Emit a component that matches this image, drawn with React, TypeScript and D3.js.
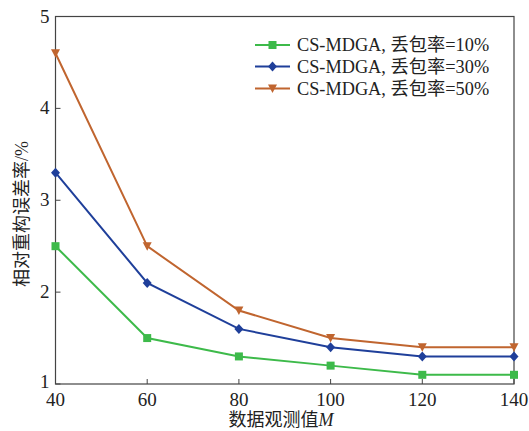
import React from "react";
import * as d3 from "d3";

const xValues = [40, 60, 80, 100, 120, 140];
const loss10 = [2.5, 1.5, 1.3, 1.2, 1.1, 1.1];
const loss30 = [3.3, 2.1, 1.6, 1.4, 1.3, 1.3];
const loss50 = [4.6, 2.5, 1.8, 1.5, 1.4, 1.4];
const xTicks = [40, 60, 80, 100, 120, 140];
const yTicks = [1, 2, 3, 4, 5];
const seriesNames = ["CS-MDGA, 丢包率=10%", "CS-MDGA, 丢包率=30%", "CS-MDGA, 丢包率=50%"];

const colors = ["#3dba4a", "#1f3f9a", "#c0652f"];
const shapes = ["square", "diamond", "triangle"];

const W = 529, H = 431;
const left = 55.5, right = 514, top = 16.5, bottom = 384;
const serif = "'Liberation Serif', 'Times New Roman', serif";
const cjk = "'Liberation Serif', 'Noto Sans CJK SC', serif";

function Marker({ shape, x, y, color }: { shape: string; x: number; y: number; color: string }) {
  if (shape === "square") return <rect x={x - 4} y={y - 4} width={8} height={8} fill={color} />;
  if (shape === "diamond")
    return <path d={`M${x},${y - 5}L${x + 4.5},${y}L${x},${y + 5}L${x - 4.5},${y}Z`} fill={color} />;
  return <path d={`M${x - 4.5},${y - 4}L${x + 4.5},${y - 4}L${x},${y + 4.5}Z`} fill={color} />;
}

export default function App() {
  const x = d3.scaleLinear().domain([40, 140]).range([left, right]);
  const y = d3.scaleLinear().domain([1, 5]).range([bottom, top]);
  const line = d3.line<number>().x((_, i) => x(xValues[i])).y((d) => y(d));
  const series = [loss10, loss30, loss50];
  const axisColor = "#444";
  const textColor = "#222";
  return (
    <svg width={W} height={H} style={{ position: "absolute", left: 0, top: 0, background: "#fff" }}>
      <rect x={left} y={top} width={right - left} height={bottom - top} fill="none" stroke={axisColor} strokeWidth={1.2} />
      {xTicks.map((t) => (
        <g key={"x" + t}>
          <line x1={x(t)} x2={x(t)} y1={bottom} y2={bottom - 5} stroke={axisColor} strokeWidth={1} />
          <text x={x(t)} y={406} textAnchor="middle" fontFamily={serif} fontSize={19} fill={textColor}>{t}</text>
        </g>
      ))}
      {yTicks.map((t) => (
        <g key={"y" + t}>
          <line x1={left} x2={left + 5} y1={y(t)} y2={y(t)} stroke={axisColor} strokeWidth={1} />
          <text x={left - 6} y={y(t) + (t === 1 ? 4 : 6)} textAnchor="end" fontFamily={serif} fontSize={19} fill={textColor}>{t}</text>
        </g>
      ))}
      <text x={281} y={426} textAnchor="middle" fontFamily={cjk} fontSize={18} fill={textColor}>
        数据观测值<tspan fontStyle="italic" fontFamily={serif}>M</tspan>
      </text>
      <text transform={`translate(28,214) rotate(-90)`} textAnchor="middle" fontFamily={cjk} fontSize={18} fill={textColor}>
        相对重构误差率/%
      </text>
      {series.map((s, i) => (
        <g key={"s" + i}>
          <path d={line(s) || ""} fill="none" stroke={colors[i]} strokeWidth={2} />
          {s.map((v, j) => (
            <Marker key={j} shape={shapes[i]} x={x(xValues[j])} y={y(v)} color={colors[i]} />
          ))}
        </g>
      ))}
      {seriesNames.map((n, i) => {
        const ly = [45, 66.5, 88.5][i];
        return (
          <g key={"l" + i}>
            <line x1={255} x2={290} y1={ly} y2={ly} stroke={colors[i]} strokeWidth={2} />
            <Marker shape={shapes[i]} x={272.5} y={ly} color={colors[i]} />
            <text x={297} y={ly + 6} fontFamily={cjk} fontSize={18.3} fill={textColor}>{n}</text>
          </g>
        );
      })}
    </svg>
  );
}
